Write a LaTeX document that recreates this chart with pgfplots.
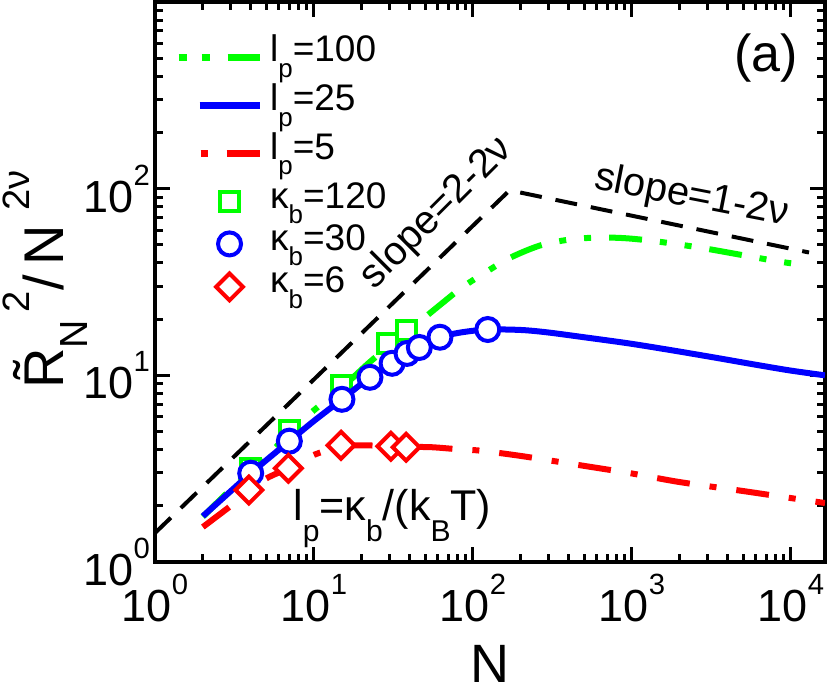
\documentclass[border=0pt]{standalone}
\usepackage{fontspec}
\setmainfont{Liberation Sans}
\usepackage{graphicx}
\usepackage{pgfplots}
\pgfplotsset{compat=1.18}
\newcommand{\lsup}[2][0.6em]{\raisebox{#1}{\scalebox{0.68}{#2}}}
\newcommand{\lsub}[2][0.42em]{\raisebox{-#1}{\scalebox{0.7}{#2}}}
\newcommand{\tp}[1]{10\raisebox{0.6em}{\scalebox{0.65}{#1}}}
\definecolor{cg}{RGB}{0,255,0}
\definecolor{cb}{RGB}{0,0,255}
\definecolor{cr}{RGB}{255,0,0}
\pgfplotsset{
  legline/.style={legend image code/.code={\draw[##1] (0pt,0pt) -- (81pt,0pt);}},
  legmark/.style={legend image code/.code={\path[draw=none,fill=none] (0pt,-1pt) rectangle (81pt,1pt); \draw[##1] plot coordinates {(51pt,0pt)};}},
}
\begin{document}
\begin{tikzpicture}
\begin{axis}[
  name=ax,
  scale only axis, width=670pt, height=560pt,
  xmode=log, ymode=log,
  xmin=1, xmax=16384, ymin=1, ymax=1000,
  clip mode=individual,
  axis line style={line width=3.5pt},
  major tick length=15pt, minor tick length=8pt,
  every tick/.style={black, line width=3pt},
  xtick pos=both, ytick pos=both,
  xtick={1,10,100,1000,10000},
  xticklabels={},
  minor xtick={2,3,...,9,20,30,...,90,200,300,...,900,2000,3000,...,9000},
  ytick={1,10,100},
  yticklabels={},
  minor ytick={2,3,...,9,20,30,...,90,200,300,...,900},
  legend style={at={(axis description cs:0.0299,0.943)}, anchor=north west, draw=none, fill=none,
    inner sep=0pt, outer sep=0pt, column sep=14pt, row sep=0pt,
    nodes={inner sep=0pt}},
  legend cell align=left,
]
% reference dashed lines
\addplot[forget plot, black, line width=4pt, dash pattern=on 22pt off 14pt] coordinates {(1,1.43) (170,98) (13000,45.5)};
% l_p = 100
\addplot[forget plot, cg, line width=6pt, smooth, dash pattern=on 33pt off 18pt on 7pt off 18pt on 7pt off 18pt] coordinates {
(2,1.75) (3,2.45) (4,3.05) (5.5,3.95) (7,4.95) (10,6.5) (15,8.6) (22,11.6) (30,14.5) (38,17.0) (50,20.5) (65,24.6) (85,29.5) (116,35) (170,42.5) (264,49.6) (400,53.3) (600,54.7) (900,54.3) (1400,52.3) (2690,48.3) (5000,44) (8000,41) (12600,38.7)};
\addplot[forget plot, only marks, cg, mark=square*, mark size=9.5pt, mark options={solid, fill=white, draw=cg, line width=4pt}] coordinates {
(4,3.15) (7,5.05) (15,8.85) (29,14.8) (38,17.4)};
% l_p = 25
\addplot[forget plot, cb, line width=6pt, smooth] coordinates {
(2,1.76) (3,2.4) (4,2.99) (5.5,3.75) (7,4.44) (10,5.7) (15,7.44) (22.5,9.76) (31,11.6) (38.5,13.1) (46,14.1) (62,16.0) (85,17.0) (124,17.6) (200,17.5) (292,17.0) (500,16.0) (971,14.8) (1800,13.6) (3230,12.5) (6000,11.4) (10000,10.6) (16384,10.0)};
\addplot[forget plot, only marks, cb, mark=*, mark size=11.5pt, mark options={solid, fill=white, draw=cb, line width=4pt}] coordinates {
(4,2.99) (7,4.44) (15,7.44) (22.5,9.76) (31,11.6) (38.5,13.1) (46,14.1) (62,16) (124,17.6)};
% l_p = 5
\addplot[forget plot, cr, line width=6pt, smooth, dash pattern=on 33pt off 20pt on 7pt off 20pt] coordinates {
(2,1.54) (3,2.0) (3.9,2.4) (5,2.8) (6.9,3.18) (10,3.75) (14.8,4.15) (20,4.22) (30,4.17) (38,4.14) (55,4.12) (80,4.02) (111,3.95) (200,3.7) (471,3.3) (1000,2.98) (2000,2.68) (5000,2.4) (10000,2.2) (16384,2.07)};
\addplot[forget plot, only marks, cr, mark=square*, mark size=9.5pt, mark options={solid, rotate=45, fill=white, draw=cr, line width=4pt}] coordinates {
(3.9,2.43) (6.9,3.18) (14.8,4.22) (30.5,4.17) (38,4.12)};
% legend images (texts set below)
\addlegendimage{legline, cg, line width=7pt, dash pattern=on 8pt off 15pt on 8pt off 18pt on 33pt off 60pt}
\addlegendentry[text height=28pt, text depth=20pt]{\phantom{x}}
\addlegendimage{legline, cb, line width=7pt, dash pattern=on 0pt off 21pt on 100pt off 10pt}
\addlegendentry[text height=28pt, text depth=20pt]{\phantom{x}}
\addlegendimage{legline, cr, line width=7pt, dash pattern=on 0pt off 22pt on 7pt off 19pt on 33pt off 60pt}
\addlegendentry[text height=28pt, text depth=20pt]{\phantom{x}}
\addlegendimage{legmark, cg, mark=square*, mark size=9.5pt, mark options={solid, fill=white, draw=cg, line width=4pt}}
\addlegendentry[text height=29pt, text depth=19pt]{\phantom{x}}
\addlegendimage{legmark, cb, mark=*, mark size=11.5pt, mark options={solid, fill=white, draw=cb, line width=4pt}}
\addlegendentry[text height=23pt, text depth=13pt]{\phantom{x}}
\addlegendimage{legmark, cr, mark=square*, mark size=9.5pt, mark options={solid, rotate=45, fill=white, draw=cr, line width=4pt}}
\addlegendentry[text height=30pt, text depth=20pt]{\phantom{x}}
% legend texts
\tikzset{lgt/.style={anchor=base west, inner sep=0pt, font=\fontsize{37}{37}\selectfont}}
\node[lgt] at (axis description cs:0.1716,0.8929) {l\lsub{p}=100};
\node[lgt] at (axis description cs:0.1716,0.8054) {l\lsub{p}=25};
\node[lgt] at (axis description cs:0.1716,0.7196) {l\lsub{p}=5};
\node[lgt] at (axis description cs:0.1716,0.6321) {κ\lsub{b}=120};
\node[lgt] at (axis description cs:0.1716,0.5571) {κ\lsub{b}=30};
\node[lgt] at (axis description cs:0.1716,0.4804) {κ\lsub{b}=6};
% tick labels
\tikzset{tkx/.style={anchor=north, inner sep=0pt, yshift=-12pt, font=\fontsize{45}{45}\selectfont},
         tky/.style={anchor=east, inner sep=0pt, xshift=-5pt, font=\fontsize{45}{45}\selectfont}}
\node[tkx] at (axis cs:1,1) {\tp{0}};
\node[tkx] at (axis cs:10,1) {\tp{1}};
\node[tkx] at (axis cs:100,1) {\tp{2}};
\node[tkx] at (axis cs:1000,1) {\tp{3}};
\node[tkx] at (axis cs:10000,1) {\tp{4}};
\node[tky] at (axis cs:1,1) {\tp{0}};
\node[tky] at (axis cs:1,10) {\tp{1}};
\node[tky] at (axis cs:1,100) {\tp{2}};
% axis labels
\node[anchor=base, inner sep=0pt, font=\fontsize{54}{54}\selectfont] at (axis description cs:0.5,-0.216) {N};
\node[anchor=base, inner sep=0pt, rotate=90, font=\fontsize{56}{56}\selectfont] at (axis description cs:-0.1373,0.504) {\~{R}\lsub[0.44em]{N}\kern8pt\lsup[0.6em]{2}/\kern10pt N\kern14pt\lsup[0.6em]{2ν}};
% annotations
\node[font=\fontsize{52}{52}\selectfont] at (axis description cs:0.912,0.9) {(a)};
\node[font=\fontsize{40}{40}\selectfont, rotate=45, inner sep=0pt] at (axis description cs:0.421,0.623) {slope=2-2ν};
\node[font=\fontsize{40}{40}\selectfont, rotate=-11, inner sep=0pt] at (axis description cs:0.801,0.652) {slope=1-2ν};
\node[font=\fontsize{43}{43}\selectfont, anchor=base west, inner sep=0pt] at (axis description cs:0.206,0.075) {l\lsub[0.5em]{p}=κ\lsub[0.5em]{b}/(k\lsub[0.5em]{B}T)};
\end{axis}
\pgfresetboundingbox
\path ([xshift=-155pt,yshift=-126pt]ax.south west) rectangle ([xshift=5pt,yshift=2pt]ax.north east);
\end{tikzpicture}
\end{document}
